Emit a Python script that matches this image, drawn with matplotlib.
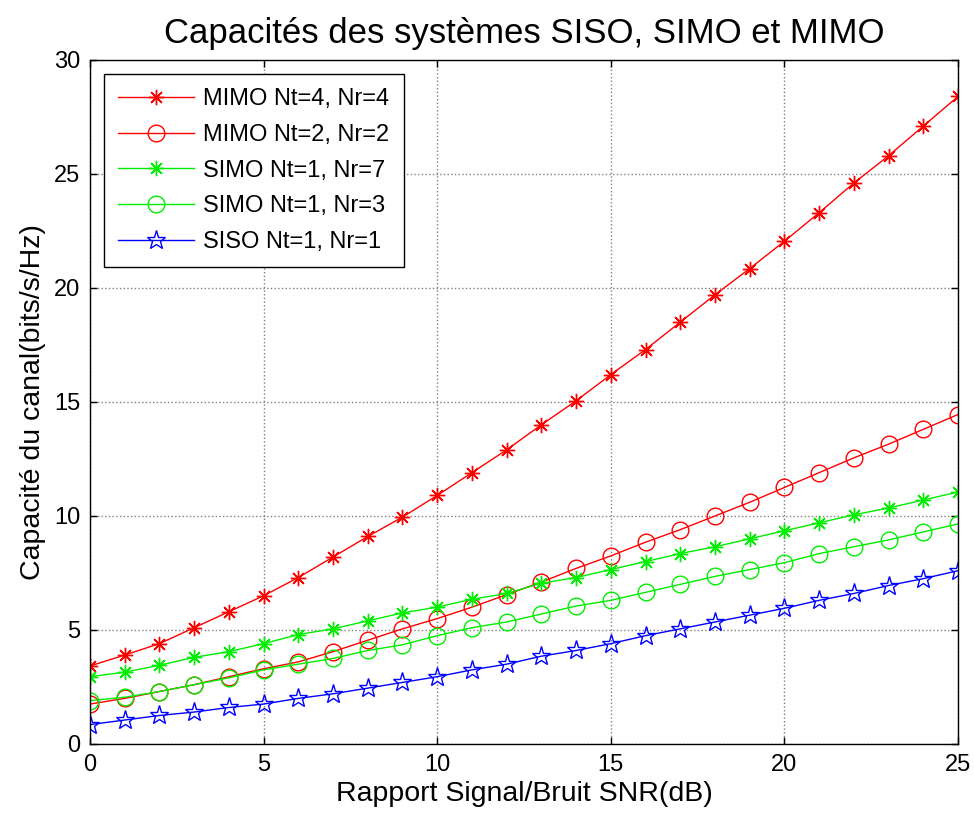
import numpy as np
import matplotlib.pyplot as plt

plt.rcParams['font.family'] = ['Liberation Sans', 'DejaVu Sans']

snr_db = list(range(0, 26))

# capacité lue en bits/s/Hz pour chaque configuration
mimo_4x4 = [3.42, 3.9, 4.4, 5.1, 5.8, 6.5, 7.3, 8.2, 9.1, 9.95, 10.9, 11.9, 12.9,
            14.0, 15.05, 16.2, 17.3, 18.5, 19.7, 20.85, 22.05, 23.3, 24.6, 25.8,
            27.1, 28.4]
mimo_2x2 = [1.75, 2.0, 2.3, 2.6, 2.95, 3.3, 3.6, 4.05, 4.55, 5.05, 5.5, 6.0, 6.55,
            7.1, 7.7, 8.25, 8.85, 9.4, 10.0, 10.6, 11.25, 11.9, 12.55, 13.15,
            13.8, 14.45]
simo_1x7 = [2.95, 3.15, 3.45, 3.8, 4.05, 4.4, 4.8, 5.05, 5.4, 5.75, 6.0, 6.35, 6.6,
            7.05, 7.3, 7.65, 8.0, 8.35, 8.65, 9.0, 9.35, 9.7, 10.05, 10.35, 10.7,
            11.05]
simo_1x3 = [1.9, 2.05, 2.3, 2.6, 2.9, 3.25, 3.5, 3.75, 4.1, 4.35, 4.75, 5.1, 5.35,
            5.7, 6.05, 6.3, 6.65, 7.0, 7.35, 7.65, 7.95, 8.35, 8.65, 8.95, 9.3,
            9.65]
siso_1x1 = [0.85, 1.05, 1.25, 1.4, 1.6, 1.75, 2.0, 2.2, 2.45, 2.7, 2.95, 3.25, 3.5,
            3.85, 4.1, 4.4, 4.75, 5.05, 5.35, 5.65, 5.95, 6.3, 6.6, 6.95, 7.25,
            7.6]

labels = ['MIMO Nt=4, Nr=4', 'MIMO Nt=2, Nr=2', 'SIMO Nt=1, Nr=7',
          'SIMO Nt=1, Nr=3', 'SISO Nt=1, Nr=1']

fig = plt.figure(figsize=(9.74, 8.18), dpi=100)
ax = fig.add_axes([0.0924, 0.0905, 0.8912, 0.8362])

asterisk = (8, 2, 0)
ax.plot(snr_db, mimo_4x4, color='#ff0000', lw=1, marker=asterisk, ms=11, mew=1,
        label=labels[0])
ax.plot(snr_db, mimo_2x2, color='#ff0000', lw=1, marker='o', ms=12, mfc='none', mew=1,
        label=labels[1])
ax.plot(snr_db, simo_1x7, color='#00ee00', lw=1, marker=asterisk, ms=11, mew=1,
        label=labels[2])
ax.plot(snr_db, simo_1x3, color='#00ee00', lw=1, marker='o', ms=12, mfc='none', mew=1,
        label=labels[3])
ax.plot(snr_db, siso_1x1, color='#0000ff', lw=1, marker='*', ms=14, mfc='none', mew=1,
        label=labels[4])

ax.set_xlim(0, 25)
ax.set_ylim(0, 30)
ax.set_xticks(range(0, 26, 5))
ax.set_yticks(range(0, 31, 5))
ax.tick_params(direction='in', length=5, width=1, labelsize=17, top=True, right=True, pad=7)
ax.grid(True, color='#808080', linestyle=':', linewidth=1)
for s in ax.spines.values():
    s.set_linewidth(1)

ax.set_title('Capacités des systèmes SISO, SIMO et MIMO', fontsize=25, pad=12)
ax.set_xlabel('Rapport Signal/Bruit SNR(dB)', fontsize=20.5, labelpad=4)
ax.set_ylabel('Capacité du canal(bits/s/Hz)', fontsize=20.5, labelpad=6)

leg = ax.legend(loc='upper left', fontsize=17, fancybox=False, edgecolor='black',
                framealpha=1, handlelength=3.2, handletextpad=0.4, borderpad=0.6,
                labelspacing=0.58, borderaxespad=0.6)
leg.get_frame().set_linewidth(1)

fig.savefig('out.png', dpi=100)
